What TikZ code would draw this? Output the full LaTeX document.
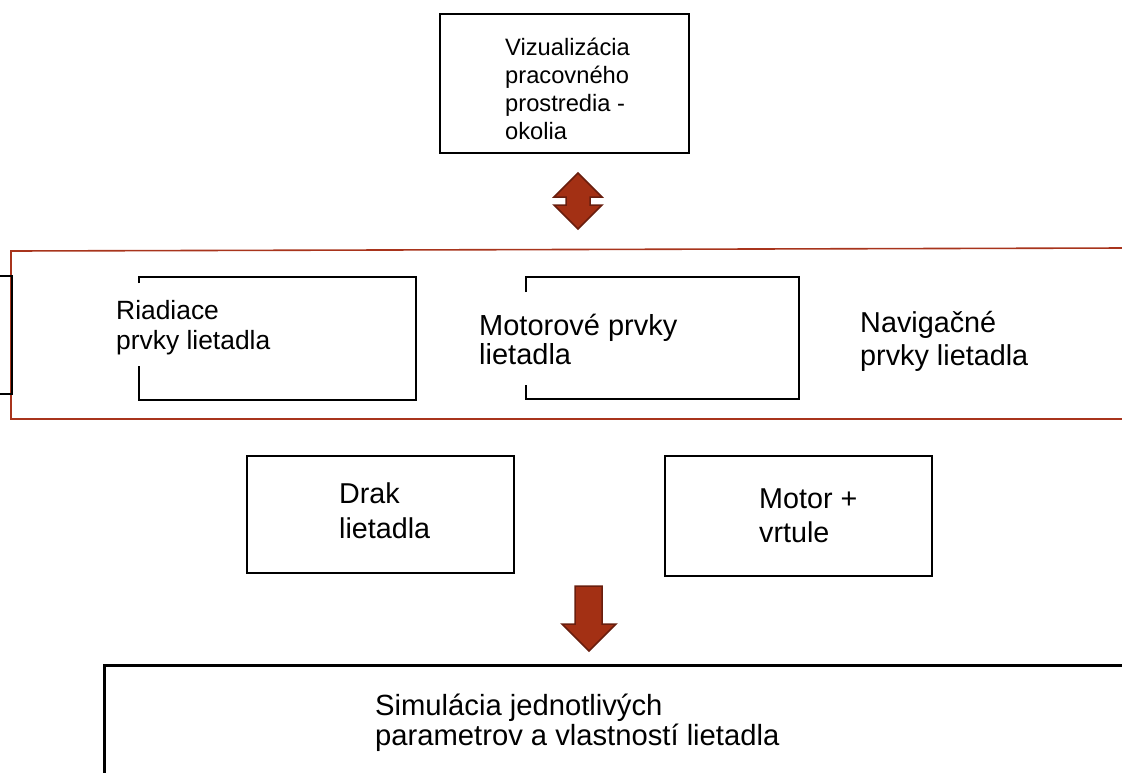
\documentclass[tikz,border=0pt]{standalone}
\usepackage{fontspec}
\setmainfont{Liberation Sans}
\definecolor{arrowfill}{RGB}{163,48,20}
\definecolor{arrowedge}{RGB}{105,30,14}
\definecolor{bandline}{RGB}{168,52,28}
\begin{document}
\begin{tikzpicture}[x=1pt,y=-1pt,
  box/.style={draw=black,line width=2.2pt,line join=miter},
  lbl/.style={anchor=base west,inner sep=0pt,align=left},
  blockarrow/.style={fill=arrowfill,draw=arrowedge,line width=1.5pt,line join=miter},
  band/.style={draw=bandline,line width=1.6pt}]
\useasboundingbox (0,0) rectangle (1122,772);
% top box
\draw[box] (440,14) rectangle (689,153);
\node[lbl,font=\fontsize{23.7}{28}\selectfont] (viz) at (505,139) {Vizualizácia\\pracovného\\prostredia -\\okolia};
% double arrow
\draw[blockarrow] (578,173) -- (602,197) -- (590,197) -- (590,205) -- (602,205) -- (578,229)
  -- (554,205) -- (566,205) -- (566,197) -- (554,197) -- cycle;
% band
\draw[band] (1125,248) -- (11,251) -- (11,419) -- (1125,419);
% left partial box
\draw[box] (-3,276) -- (12,276) -- (12,394) -- (-3,394);
% Riadiace box
\draw[box] (139,283) -- (139,277) -- (416,277) -- (416,400) -- (139,400) -- (139,366);
\node[lbl,font=\fontsize{26.4}{30}\selectfont] (riad) at (116,349) {Riadiace\\prvky lietadla};
% Motorove box
\draw[box] (526,292) -- (526,277) -- (799,277) -- (799,399) -- (526,399) -- (526,385);
\node[lbl,font=\fontsize{29}{29}\selectfont] (mot) at (479,364) {Motorové prvky\\lietadla};
% Navigacne
\node[lbl,font=\fontsize{28.8}{33}\selectfont] (nav) at (860,365) {Navigačné\\prvky lietadla};
% Drak
\draw[box] (247,456) rectangle (514,573);
\node[lbl,font=\fontsize{28.7}{35}\selectfont] (drak) at (339,538) {Drak\\lietadla};
% Motor + vrtule
\draw[box] (665,456) rectangle (932,576);
\node[lbl,font=\fontsize{28.7}{34}\selectfont] (motv) at (759,542) {Motor +\\vrtule};
% down arrow
\draw[blockarrow] (575,586) -- (602,586) -- (602,624) -- (616,624) -- (589,651)
  -- (562,624) -- (575,624) -- cycle;
% bottom box
\draw[draw=black,line width=3pt,line join=miter] (104,776) -- (104,665) -- (1126,665);
\node[lbl,font=\fontsize{29.2}{30}\selectfont] (sim) at (375,745) {Simulácia jednotlivých\\parametrov a vlastností lietadla};
\end{tikzpicture}
\end{document}
